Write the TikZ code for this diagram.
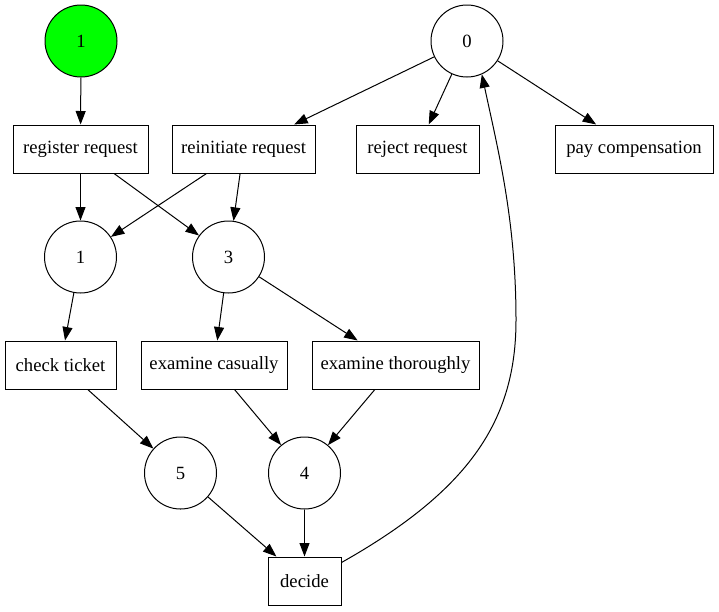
\documentclass[tikz,border=0pt]{standalone}
\usepackage{fontspec}
\setmainfont{Liberation Serif}
\usetikzlibrary{arrows.meta}
\begin{document}
\begin{tikzpicture}[x=1pt,y=-1pt,
  every node/.style={font=\fontsize{18.67}{22}\selectfont},
  place/.style={circle,draw,line width=1pt,minimum size=72pt,inner sep=0pt},
  trans/.style={rectangle,draw,line width=1pt,minimum height=48pt,inner sep=0pt},
  arc/.style={draw,line width=1pt,-{Triangle[length=13.5pt,width=10pt]}}]
\useasboundingbox (0,0) rectangle (719,611);
% places
\node[place,fill={rgb,255:red,0;green,255;blue,0}] (start) at (81,41) {1};
\node[place] (p0) at (467,41) {0};
\node[place] (p1) at (80.5,257) {1};
\node[place] (p3) at (228.5,257) {3};
\node[place] (p5) at (180.5,473) {5};
\node[place] (p4) at (304.5,473) {4};
% transitions
\node[trans,minimum width=135pt] (register) at (80.5,149) {register request};
\node[trans,minimum width=143pt] (reinit) at (243.5,149) {reinitiate request};
\node[trans,minimum width=123pt] (reject) at (417.5,149) {reject request};
\node[trans,minimum width=158pt] (pay) at (634,149) {pay compensation};
\node[trans,minimum width=111pt] (check) at (60.5,365) {check ticket};
\node[trans,minimum width=146pt] (casual) at (214,365) {examine casually};
\node[trans,minimum width=167pt] (thorough) at (395.5,365) {examine thoroughly};
\node[trans,minimum width=73pt] (decide) at (304.5,581) {decide};
% arcs
\path[arc] (start) -- (register);
\path[arc] (p0) -- (reinit);
\path[arc] (p0) -- (reject);
\path[arc] (p0) -- (pay);
\path[arc] (register) -- (p1);
\path[arc] (register) -- (p3);
\path[arc] (reinit) -- (p1);
\path[arc] (reinit) -- (p3);
\path[arc] (p1) -- (check);
\path[arc] (p3) -- (casual);
\path[arc] (p3) -- (thorough);
\path[arc] (check) -- (p5);
\path[arc] (casual) -- (p4);
\path[arc] (thorough) -- (p4);
\path[arc] (p5) -- (decide);
\path[arc] (p4) -- (decide);
\path[arc] ([yshift=-6pt]decide.north east) .. controls (470,490) and (516,420) .. (516,320)
  .. controls (516,220) and (498,150) .. (p0.-66);
\end{tikzpicture}
\end{document}
